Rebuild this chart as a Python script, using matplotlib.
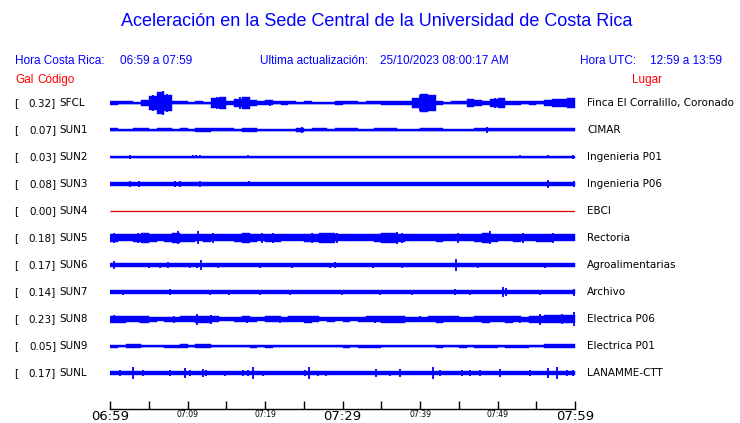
import numpy as np
import matplotlib
matplotlib.use("Agg")
import matplotlib.pyplot as plt

W, H = 740, 423

# --- datos ---
codes = ["SFCL", "SUN1", "SUN2", "SUN3", "SUN4", "SUN5", "SUN6", "SUN7", "SUN8", "SUN9", "SUNL"]
gal = [0.32, 0.07, 0.03, 0.08, 0.00, 0.18, 0.17, 0.14, 0.23, 0.05, 0.17]
places = ["Finca El Corralillo, Coronado", "CIMAR", "Ingenieria P01", "Ingenieria P06", "EBCI",
          "Rectoria", "Agroalimentarias", "Archivo", "Electrica P06", "Electrica P01", "LANAMME-CTT"]
tick_labels = ["06:59", "", "07:09", "", "07:19", "", "07:29", "", "07:39", "", "07:49", "", "07:59"]
minutes = 60

# envolvente (semi-amplitud, px) por minuto
env_sfcl = [2, 1.5, 1.5, 1, 3, 7, 11, 8, 1.5, 1.5, 1, 1.5, 1, 5, 6, 2, 4, 6, 3, 2,
            2.5, 1.5, 2, 1.5, 1, 1.5, 1, 1, 1, 2, 1.5, 1.5, 1, 1.5, 1.5, 2, 2, 2, 2, 5,
            9, 8, 2, 1, 1.5, 1.5, 4, 3, 2, 4, 5, 2, 2, 1.5, 2, 1.5, 3, 4, 4, 5]
env_sun1 = [1.5, 0.6, 0.6, 1.5, 1.5, 0.6, 1.5, 1.5, 0.6, 1.5, 0.6, 2, 2, 1.5, 1.5, 1.5, 0.6, 2, 2, 0.6,
            1.2, 0.6, 0.6, 0.6, 2, 0.6, 1.5, 1.5, 0.6, 1.5, 1.5, 1.5, 1.2, 0.6, 1.5, 1.5, 1.5, 0.6, 1.2, 1.2,
            1.5, 1.5, 1.5, 0.6, 0.6, 0.6, 0.6, 1.5, 1.5, 1.5, 1.5, 1.5, 1.5, 1.5, 1.5, 1.5, 1.5, 1.5, 1.5, 1.5]
env_sun2 = 0.6
env_sun3 = 1.9
env_sun4 = 0.0
env_sun5 = [4, 3.5, 3.5, 4, 4.5, 4, 3.5, 4, 4.5, 4, 4, 3.5, 4, 3.5, 3.5, 3.5, 4, 4.5, 4, 3.5,
            4, 4, 3.5, 3.5, 3.5, 4, 4, 4.5, 4.5, 3.5, 3.5, 3.5, 3.5, 3.5, 4, 4.5, 4.5, 4, 3.5, 3.5,
            3.5, 3.5, 4, 3.5, 3.5, 3.5, 3.5, 4, 5, 4, 3.5, 3.5, 4, 3.5, 3.5, 4, 4, 3.5, 3.5, 3.5]
env_sun6 = 1.8
env_sun7 = 1.8
env_sun8 = [3.5, 3.5, 3, 3, 3.5, 2.5, 2, 2.5, 2.5, 3, 3, 3.5, 3.5, 3, 2, 2, 2.5, 3, 2.5, 2,
            3, 3, 2.5, 3, 3, 3.5, 3, 2, 2.5, 2, 2.5, 2, 2.5, 3, 3, 3.5, 3.5, 3.5, 2.5, 2.5,
            2.5, 3, 3.5, 3, 3, 2.5, 2.5, 3, 3.5, 3, 3, 3.5, 3, 2.5, 3.5, 3.5, 4, 4, 4, 4.5]
env_sun9 = [1.5, 1.2, 2, 2, 0.6, 1.2, 1.2, 1.5, 1.5, 2, 0.6, 2, 2, 0.6, 1.2, 0.6, 0.6, 0.6, 1.5, 0.6,
            1.5, 1.2, 1.2, 0.6, 0.6, 1.2, 0.6, 0.6, 0.6, 0.6, 1.5, 0.6, 1.5, 1.5, 1.5, 1.2, 0.6, 1.2, 0.6, 1.2,
            0.6, 0.6, 1.5, 0.6, 0.6, 1.5, 0.6, 1.5, 1.5, 1.5, 0.6, 1.5, 1.5, 1.5, 0.6, 1.2, 1.8, 1.8, 1.8, 1.8]
env_sunl = 1.9

# picos aislados: (minuto, semi-amplitud px)
spk_sfcl = [(5.6, 8), (6.3, 10), (6.8, 12), (7.3, 9), (13.8, 6), (16.8, 6), (20.6, 3), (40.0, 8),
            (40.6, 9), (41.0, 8), (41.6, 6), (46.5, 4), (49.7, 5), (59.9, 5)]
spk_sun1 = [(24.8, 3), (48.6, 3)]
spk_sun2 = [(2.6, 2), (8.5, 1.2), (10.7, 1.5), (11.1, 1.5), (11.6, 1.5), (17.8, 1.5), (28.0, 1),
            (35.7, 1.2), (37.2, 1.2), (52.9, 1.5), (56.5, 1.5), (59.7, 2)]
spk_sun3 = [(2.6, 3.2), (3.7, 2.8), (8.4, 2.8), (9.0, 2.8), (11.6, 2.8), (17.9, 2.5), (56.5, 4), (59.9, 3)]
spk_sun4 = []
spk_sun5 = [(0.5, 5), (3.6, 5), (8.8, 6.5), (11.4, 6.5), (13.3, 5), (19.6, 5.5), (21.0, 5), (26.1, 5),
            (29.3, 4.5), (37.0, 6), (37.7, 5), (44.9, 5), (49.0, 6.5), (53.3, 5), (57.2, 5)]
spk_sun6 = [(0.5, 4), (5.0, 2.5), (6.5, 2.5), (7.5, 3.3), (10.3, 2.5), (11.2, 2.5), (11.7, 4.7), (13.9, 2.5),
            (19.4, 2.5), (23.5, 2.5), (28.4, 2.5), (29.0, 3), (33.9, 2.5), (37.7, 2.5), (44.6, 6.3),
            (47.5, 2.5), (56.1, 2.5)]
spk_sun7 = [(1.7, 2.5), (7.7, 3), (12.9, 2.5), (15.4, 2.5), (19.4, 2.5), (23.2, 2.5), (29.9, 2.5),
            (34.8, 2.5), (39.0, 2.5), (44.5, 3), (46.5, 2.5), (50.7, 5), (51.1, 4), (55.5, 2.5), (59.9, 3.5)]
spk_sun8 = [(0.5, 4), (1.4, 3.5), (3.9, 3.5), (8.3, 3.5), (11.2, 5.5), (13.0, 4.5), (17.7, 3.5), (21.9, 3.5),
            (26.2, 3), (34.2, 3.5), (35.9, 3), (40.0, 3), (51.0, 3), (52.9, 3.5), (55.5, 5.5), (58.3, 5),
            (59.9, 7)]
spk_sun9 = [(59.9, 2)]
spk_sunl = [(1.3, 3), (3.0, 6), (4.3, 3), (7.7, 3), (9.7, 5), (10.3, 3), (12.0, 4), (12.4, 3), (14.8, 2.5),
            (17.2, 3), (17.8, 3), (18.5, 6), (19.7, 2.5), (25.2, 3), (25.7, 6), (26.8, 2.5), (27.9, 2.5),
            (34.3, 4), (36.1, 2.5), (37.4, 4), (41.7, 6), (42.6, 3), (45.4, 3), (46.5, 3), (47.7, 3),
            (50.3, 4), (54.2, 3), (56.5, 5), (57.7, 6), (59.0, 3), (59.7, 3)]

envs = [env_sfcl, env_sun1, env_sun2, env_sun3, env_sun4, env_sun5, env_sun6, env_sun7, env_sun8, env_sun9, env_sunl]
spikes = [spk_sfcl, spk_sun1, spk_sun2, spk_sun3, spk_sun4, spk_sun5, spk_sun6, spk_sun7, spk_sun8, spk_sun9, spk_sunl]

BLUE = "#0000ff"
ROW = 27.0  # px entre trazas

fig = plt.figure(figsize=(W / 100, H / 100), dpi=100)


def fx(x):
    return x / W


def fy(y):
    return 1 - y / H


# ejes de trazas
ax = fig.add_axes([fx(110), fy(386.5), fx(575) - fx(110), (386.5 - 89.5) / H])
ax.set_xlim(0, minutes)
ax.set_ylim(len(codes) - 0.5, -0.5)
ax.axis("off")

tc = np.arange(minutes) + 0.5
for i, (env, spk) in enumerate(zip(envs, spikes)):
    if i == 4:
        ax.hlines(i, 0, minutes, color="#dd0000", lw=0.9)
        continue
    e = np.broadcast_to(np.asarray(env, dtype=float), tc.shape)
    xs = np.r_[0, tc, minutes]
    es = np.r_[e[0], e, e[-1]] / ROW
    ax.fill_between(xs, i - es, i + es, step="mid", color=BLUE, lw=0.3)
    ax.hlines(i, 0, minutes, color=BLUE, lw=1.0)
    if spk:
        t, a = np.array(spk).T
        ax.vlines(t, i - a / ROW, i + a / ROW, color=BLUE, lw=1.3)

# eje de tiempo
tax = fig.add_axes([fx(110), fy(409), fx(575) - fx(110), 0.02])
tax.set_xlim(0, minutes)
tax.set_yticks([])
for s in ["top", "left", "right"]:
    tax.spines[s].set_visible(False)
tax.patch.set_alpha(0)
tax.spines["bottom"].set_linewidth(1.0)
tax.set_xticks(np.arange(0, minutes + 1, 5))
tax.set_xticklabels(tick_labels)
tax.tick_params(axis="x", direction="in", length=6, width=1, pad=1)
for lab in tax.get_xticklabels():
    big = lab.get_text() in ("06:59", "07:29", "07:59")
    lab.set_fontsize(9.5 if big else 5.5)
    lab.set_fontfamily("DejaVu Sans")

# textos
hf = "Liberation Sans"
fig.text(fx(377), fy(22), "Aceleración en la Sede Central de la Universidad de Costa Rica",
         ha="center", va="center", color=BLUE, fontsize=13, family=hf)
fig.text(fx(15), fy(61), "Hora Costa Rica:", ha="left", va="center", color=BLUE, fontsize=8.5, family=hf)
fig.text(fx(120), fy(61), "06:59 a 07:59", ha="left", va="center", color=BLUE, fontsize=8.5, family=hf)
fig.text(fx(260), fy(61), "Ultima actualización:", ha="left", va="center", color=BLUE, fontsize=8.5, family=hf)
fig.text(fx(380), fy(61), "25/10/2023 08:00:17 AM", ha="left", va="center", color=BLUE, fontsize=8.5, family=hf)
fig.text(fx(580), fy(61), "Hora UTC:", ha="left", va="center", color=BLUE, fontsize=8.5, family=hf)
fig.text(fx(650), fy(61), "12:59 a 13:59", ha="left", va="center", color=BLUE, fontsize=8.5, family=hf)
fig.text(fx(15), fy(80), "Gal", ha="left", va="center", color="red", fontsize=8.5, family=hf)
fig.text(fx(37), fy(80), "Código", ha="left", va="center", color="red", fontsize=8.5, family=hf)
fig.text(fx(632), fy(80), "Lugar", ha="left", va="center", color="red", fontsize=8.5, family=hf)

for i, (c, g, p) in enumerate(zip(codes, gal, places)):
    y = 103 + ROW * i
    fig.text(fx(14), fy(y), "[", ha="left", va="center", fontsize=7.5)
    fig.text(fx(56), fy(y), f"{g:.2f}]", ha="right", va="center", fontsize=7.5)
    fig.text(fx(59), fy(y), c, ha="left", va="center", fontsize=7.5)
    fig.text(fx(587), fy(y), p, ha="left", va="center", fontsize=7.5)

fig.savefig("out.png", dpi=100)
